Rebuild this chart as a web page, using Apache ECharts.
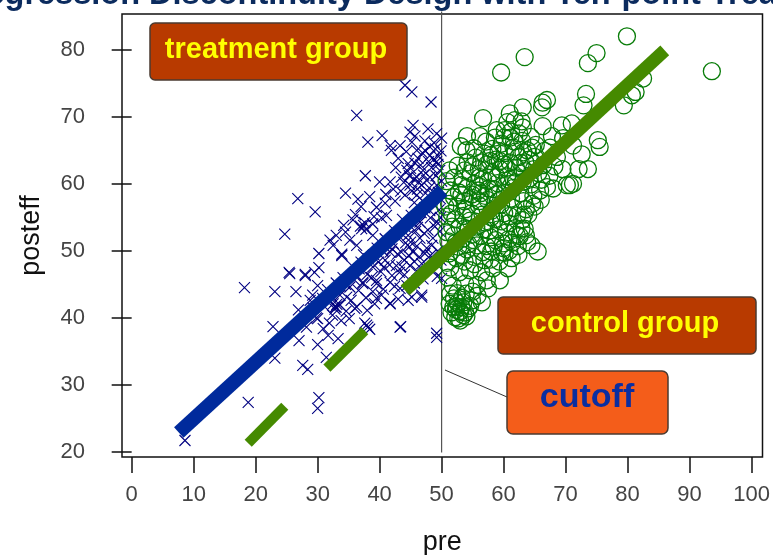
<!DOCTYPE html>
<html>
<head>
<meta charset="utf-8">
<style>html,body{margin:0;padding:0;background:#fff;overflow:hidden}#c{width:773px;height:555px}</style>
<script src="https://cdn.jsdelivr.net/npm/echarts@6/dist/echarts.min.js"></script>
</head>
<body>
<div id="c"></div>
<script>
const titleText = 'Regression Discontinuity Design with Ten-point Treatment Effect';
const xTicks = [0,10,20,30,40,50,60,70,80,90,100];
const yTicks = [20,30,40,50,60,70,80];
const treatmentGroup = [
[44.1,74.7],[45.2,73.7],[48.3,72.2],[36.3,70.2],[38.1,66.2],[40.4,67.2],[26.8,57.8],[29.6,55.8],[24.7,52.5],[34.5,58.6],
[36.5,57.7],[37.7,61.2],[40,60.3],[41.7,60.3],[32,51.6],[34.5,52.8],[30.2,49.6],[30.2,47.5],[33.9,49.5],[25.4,46.8],
[28,46.3],[37.4,53.8],[37.1,53.3],[37.8,53.2],[37.6,54.2],[36.9,53.7],[18.2,44.5],[23.1,43.9],[26.5,43.9],[22.8,38.7],
[23.1,34],[27.6,32.9],[28.4,32.3],[18.8,27.4],[30.2,28.1],[30,26.5],[8.6,21.7],[43.4,38.7],[49.2,37.1],[27,36.6],
[30,36],[31.4,34.1],[33.3,36.9],[30.9,38.4],[37.9,38.9],[38.4,38.3],[36.3,41.6],[33,41.6],[28.2,38.6],[29.8,40],
[41.7,42.2],[44.6,42.6],[46.8,43.1],[39.5,42.9],[37.3,45.1],[39.5,45.1],[25.5,46.6],[28,46.5],[30,44.8],[32.5,42.1],
[45.4,68.7],[44.9,67.7],[47.8,68.2],[49.2,67.5],[50,66.8],[41.7,65.7],[43.3,65.7],[41.9,65],[45.2,66.2],[46,65],
[48.1,65.5],[43,63.8],[44.6,63],[46.2,63.8],[48.1,64.2],[49.2,63.3],[47,62],[44.4,62],[46,61],[48.1,61],
[49.7,62],[43.5,61],[44.9,59.8],[46.8,59.8],[44.1,58.3],[49.2,59.8],[46,58.3],[38.4,58.1],[39.5,56.5],[40.9,57.1],
[41.1,55.3],[38.9,54],[38.9,52.3],[36.3,50.8],[33.9,49.3],[32.5,50.8],[35.2,51.6],[33,52.3],[48.1,56],[49.2,54.3],
[46.5,54.3],[44.6,52.3],[46.5,51.9],[48.6,51.9],[43,51.9],[41.7,49.8],[43.5,49.8],[45.4,49.8],[47.6,50.4],[49.4,50],
[38.9,47.6],[40.9,48.6],[42.7,47.8],[44.9,47.8],[46.8,48.1],[37.3,45.3],[39.5,45.6],[41.7,45.3],[43.3,44.4],[35.2,44.6],
[33.6,43.4],[38.9,43.9],[45.2,43.1],[46.8,43.4],[41.7,42.1],[36,41.4],[39.2,42.1],[32.8,41.6],[37.6,39.2],[38.1,38.6],
[43.3,38.6],[49.2,37.7],[31.7,37.4],[32.8,41.3],[33.1,42],[30,39.9],[28.8,42.6],[29.2,43.4],[29.5,46.8],[32.4,40.4],
[45.7,67.1],[47.3,66.4],[49,65.2],[44.3,64.8],[46.9,64.6],[48.8,66.1],[45,62.3],[46.6,62.8],[47.9,63.3],[49.5,64.1],
[42.6,62.4],[43.9,60.2],[45.5,60.7],[47.6,60.5],[49.1,61.2],[50,60.4],[42.2,59.2],[43.4,58.9],[45.2,58.9],[47.4,58.6],
[48.6,58.3],[49.8,57.8],[41,58.4],[42.5,57.4],[37,56.6],[39.1,55.1],[40.3,54.9],[35.7,54.6],[34.2,53.8],[36.1,55.4],
[47.3,56.4],[49.6,56.1],[45.1,55.3],[46.7,55.7],[43.7,54.7],[48.2,54.9],[42.4,53],[44.1,53.6],[45.8,52.9],[47.8,53.1],
[49.7,52.9],[40.9,51.8],[42.2,51.1],[44.2,51.2],[46,50.7],[48.4,50.8],[39.6,50.4],[40.6,49.9],[42.9,49.5],[44.7,49.3],
[46.4,49.1],[48.2,49.3],[49.9,48.6],[37.4,49.4],[38.2,48.8],[39.8,48.3],[41.6,47.9],[43.6,47.6],[47.9,47.5],[35.6,47.7],
[36.7,47.3],[38,46.5],[40.2,46.9],[42,46.3],[44,46.4],[34.1,46],[33,45.2],[35.9,45.7],[36.6,44.1],[40.6,44.3],
[42.4,44.7],[44.4,44.8],[31.6,44.2],[34.7,43.1],[37.8,43],[40.3,43.4],[43,42.8],[31,41.8],[34.6,41],[38,41.1],
[29.3,41.5],[30.8,42.9],[35.1,39.9],[33.8,39.6],[26.9,41.2],[31.9,39.2],[48.7,47],[50,45.9],[47,45.8],[45.6,45.2],
[46.3,60.2],[47.1,61.3],[48.4,62.4],[49.4,62.9],[45.7,63.1],[47.4,64.9],[48.7,63.6],[49.9,64.9],[44.8,61.2],[46.1,59.2],
[48,59.4],[49.5,58.7],[45.6,57.2],[47,57.4],[48.4,57.2],[49.8,55],[48.9,53.6],[47.2,52.6],[46.1,53.5],[45,51.3],
[43.5,52.6],[42,50.3],[41.2,50.9],[44,48.6],[45.6,48.4],[47.3,49.6],[48.9,48.4],[43.2,46.8],[40.7,47.6],[38.7,46],
[37,48.3],[39.1,49.4],[36.2,46.4],[34.5,45],[32.2,43.3],[33.6,41.9],[35.4,42.6],[46,47],[49.3,46.2],[44.8,50.6]
];
const controlGroup = [
[79.9,82],[63.4,78.9],[59.6,76.6],[75,79.5],[73.6,78],[93.6,76.8],[82.5,75.7],[81.3,73.7],[80.7,73.2],[79.4,71.7],
[73.3,73.4],[72.9,71.7],[67,72.5],[66.3,72.1],[66.2,71.4],[63.1,71.4],[61,70.5],[56.7,69.8],[66.3,68.6],[69.4,68.7],
[54.1,67.1],[53.1,65.6],[58.9,68],[58.6,66.9],[61.8,69.5],[63.1,68.4],[60.2,68],[75.2,66.5],[75.5,65.5],[72.6,64.4],
[72.1,62.2],[73.6,62.2],[71.2,65.7],[68.6,64],[67.8,67.1],[71,69],[67,59.5],[68,59.3],[70.2,59.8],[70.7,59.8],
[71.2,60],[65.9,59],[65.5,49.9],[64.5,50.8],[63.8,51.3],[63.6,52.3],[63.4,53.3],[61.3,48.9],[60.7,47.4],[59.4,45.6],
[57.3,45.6],[56.5,42.3],[57.5,44.4],[54.3,41.4],[53,39.6],[51.6,40.8],[51.3,42.1],[53.5,42.3],[54.9,42.6],[52.5,43.7],
[51,46],[53.8,45.1],[55.7,44.9],[52.3,41.2],[53,40.9],[53.8,40.8],[52.6,42.2],[54,40.2],[52.2,40.1],[53.2,41.6],
[52,42.9],[55,43.9],[51.4,47.5],[52.9,46.8],[54.6,47.1],[56.4,46.8],[58.3,47.4],[60.2,49.7],[62.4,49.4],[59.3,48.4],
[51.2,49.6],[52.4,48.9],[53.7,48.4],[55.2,49.1],[56.9,48.6],[58,49.9],[59.9,51.1],[61.4,51.2],[62.6,52.2],[51.1,51.4],
[52.7,50.6],[54.1,50.2],[55.7,50.8],[57.2,50.7],[58.7,51.6],[60.4,52.7],[61.9,53.4],[63,54.6],[64,55.4],[50.8,52.8],
[52,52.3],[53.4,51.8],[54.9,52.4],[56.3,52.2],[57.7,53],[59.2,53.2],[60.8,54.1],[62.2,55.3],[63.6,56.2],[65,56.6],
[66,57.6],[64.8,58.2],[63.2,57.4],[61.6,56.4],[60.1,55.6],[58.6,54.7],[57.1,54.2],[55.6,53.6],[54.3,53.2],[62.7,58.6],
[61.2,57.8],[59.6,56.9],[58.1,56],[56.6,55.4],[67.4,61.2],[66.1,60.6],[64.4,59.9],[63.1,60.3],[61.6,59.4],[60.2,58.6],
[50.9,55.1],[52.2,54.7],[53.5,55.2],[54.8,55.6],[56,56.8],[57.4,57.6],[58.8,58.4],[60.4,59.8],[61.9,61],[63.4,61.9],
[64.9,62.2],[66.4,62.8],[68.2,62.6],[69.5,62.2],[51.2,57],[52.5,56.6],[53.7,57.4],[55,57.9],[56.3,58.6],[57.6,59.3],
[59,60.1],[60.6,61.1],[62,62.4],[63.5,63.2],[65,64],[66.6,64.9],[51.4,59],[52.8,58.7],[54.1,59.4],[55.4,60],
[56.7,60.7],[58.1,61.6],[59.5,62.1],[61,63.2],[62.4,64],[63.8,65],[65.2,65.8],[52,60.9],[53.4,60.8],[54.7,61.6],
[56,62.2],[57.3,62.9],[58.7,63.6],[60.2,64.6],[61.6,65.4],[63,66.4],[64.4,67],[51.3,62],[52.6,62.7],[54.2,63.2],
[55.5,63.9],[56.9,64.5],[58.2,65.2],[59.7,66],[61.1,66.9],[62.5,67.5],[60,62.9],[55.2,65.3],[57.2,66.3],[58,64.3],
[61.2,67.8],[62.9,69.3],[60.6,69.2],[61.7,66.3],[59.4,63.4],[56.2,61],[53.2,58.3],[54.6,54.5],[57.9,52],[60,50.4],
[62.3,50.7],[55.3,48],[53.3,49.4],[51.8,44.8],[50.9,48.2],[50.6,56.6],[64.2,60.8],[65.6,61.6],[67.5,65.4],[69.6,66.8],
[62,60.2],[60.9,60.6],[58.4,59.2],[55.9,59],[53.9,56.2],[51.7,53.6],[59.1,57.4],[57,58.2],[56.1,57.4],[54.9,58.4],
[58.4,50.6],[59.7,49.8],[60.8,51.7],[62.1,52.4],[63.3,55.4],[64.6,57],[61,55.2],[59.6,54.4],[58,55],[56.9,53.2],
[55.2,51.6],[53.8,53.4],[52.3,51.2],[51.6,55.6],[52.9,53.6],[54.3,51],[56.6,49.8],[57.9,48.7],[60.9,50],[62.9,53.3],
[60.1,66.9],[61.9,64.8],[63.2,64.7],[64.6,65.4],[59.2,64.9],[57.8,63.4],[56.4,63.2],[55,62.6],[53.7,62],[62.8,63.1],
[60.5,62.4],[58.9,61],[57.5,60.4],[56.1,59.6],[53.2,59.8],[52,58],[50.8,60.4],[54,65],[56.2,67.1],[64.1,63.6],
[52.4,41.7],[52.9,41],[53.5,40.4],[51.9,41.6],[54.6,41.8],[53.3,43],[53.9,43.6],[52.7,39.9],[51.4,43.6],[55.8,43.3]
];
const treatmentFit = [[7.6,22.9],[50.2,59]];
const controlFit = [[44.1,44.1],[86,79.9]];
const dashSegmentA = [[18.8,21.3],[24.7,26.8]];
const dashSegmentB = [[31.5,32.5],[37.6,38.1]];
const cutoffLine = [[50,19.9],[50,85.7]];

const chart = echarts.init(document.getElementById('c'), null, {renderer:'canvas'});
const boxStyle = (fill) => ({fill, stroke:'#4a3a30', lineWidth:1.5});
chart.setOption({
  animation:false,
  backgroundColor:'#fff',
  grid:{left:122,right:10.5,top:14,bottom:98,outerBoundsMode:'none',containLabel:false,show:true,borderColor:'#111',borderWidth:1.5,backgroundColor:'transparent'},
  xAxis:{type:'value',min:-1.56,max:101.77,splitLine:{show:false},
    name:'pre',nameLocation:'middle',nameGap:72,nameTextStyle:{fontFamily:'Liberation Sans',fontSize:27,color:'#111'},
    axisLine:{show:false},
    axisTick:{show:true,length:16,customValues:xTicks,lineStyle:{color:'#111',width:1.5}},
    axisLabel:{customValues:xTicks,margin:27,fontFamily:'Liberation Sans',fontSize:22,color:'#444',hideOverlap:false}},
  yAxis:{type:'value',min:19.24,max:85.33,splitLine:{show:false},
    name:'posteff',nameLocation:'middle',nameGap:77,nameTextStyle:{fontFamily:'Liberation Sans',fontSize:27,color:'#111'},
    axisLine:{show:false},
    axisTick:{show:true,length:20,customValues:yTicks,lineStyle:{color:'#111',width:1.5}},
    axisLabel:{customValues:yTicks,margin:37,fontFamily:'Liberation Sans',fontSize:22,color:'#444',hideOverlap:false}},
  series:[
    {type:'line',data:cutoffLine,symbol:'none',clip:false,z:1,lineStyle:{color:'#555',width:1.2}},
    {type:'scatter',name:'treatment',data:treatmentGroup,symbol:'path://M0 0L10 10M10 0L0 10',symbolSize:11,z:2,
      itemStyle:{color:'none',borderColor:'#000080',borderWidth:1.1,opacity:1}},
    {type:'scatter',name:'control',data:controlGroup,symbol:'circle',symbolSize:17,z:3,
      itemStyle:{color:'none',borderColor:'#087c08',borderWidth:1.3,opacity:1}},
    {type:'line',data:treatmentFit,symbol:'none',z:4,lineStyle:{color:'#002a9c',width:14,cap:'butt'}},
    {type:'line',data:controlFit,symbol:'none',z:5,lineStyle:{color:'#458a00',width:13,cap:'butt'}},
    {type:'line',data:dashSegmentA,symbol:'none',z:5,lineStyle:{color:'#458a00',width:10,cap:'butt'}},
    {type:'line',data:dashSegmentB,symbol:'none',z:5,lineStyle:{color:'#458a00',width:10,cap:'butt'}}
  ],
  graphic:[
    {type:'text',z:20,style:{x:-37,y:-21,text:titleText,font:'bold 32.5px "Liberation Sans"',fill:'#0b2b5e',textAlign:'left',textVerticalAlign:'top'}},
    {type:'line',z:20,shape:{x1:445,y1:370,x2:507,y2:397},style:{stroke:'#333',lineWidth:1}},
    {type:'rect',z:20,shape:{x:150,y:23,width:257,height:57,r:5},style:boxStyle('#b83a00')},
    {type:'text',z:21,style:{x:276,y:50,text:'treatment group',font:'bold 29px "Liberation Sans"',fill:'#ffff00',textAlign:'center',textVerticalAlign:'middle'}},
    {type:'rect',z:20,shape:{x:498,y:297,width:258,height:57,r:5},style:boxStyle('#b83a00')},
    {type:'text',z:21,style:{x:625,y:324,text:'control group',font:'bold 29px "Liberation Sans"',fill:'#ffff00',textAlign:'center',textVerticalAlign:'middle'}},
    {type:'rect',z:20,shape:{x:507,y:371,width:161,height:63,r:6},style:boxStyle('#f45d1a')},
    {type:'text',z:21,style:{x:587,y:398,text:'cutoff',font:'bold 34px "Liberation Sans"',fill:'#0a2ea0',textAlign:'center',textVerticalAlign:'middle'}}
  ]
});
</script>
</body>
</html>
